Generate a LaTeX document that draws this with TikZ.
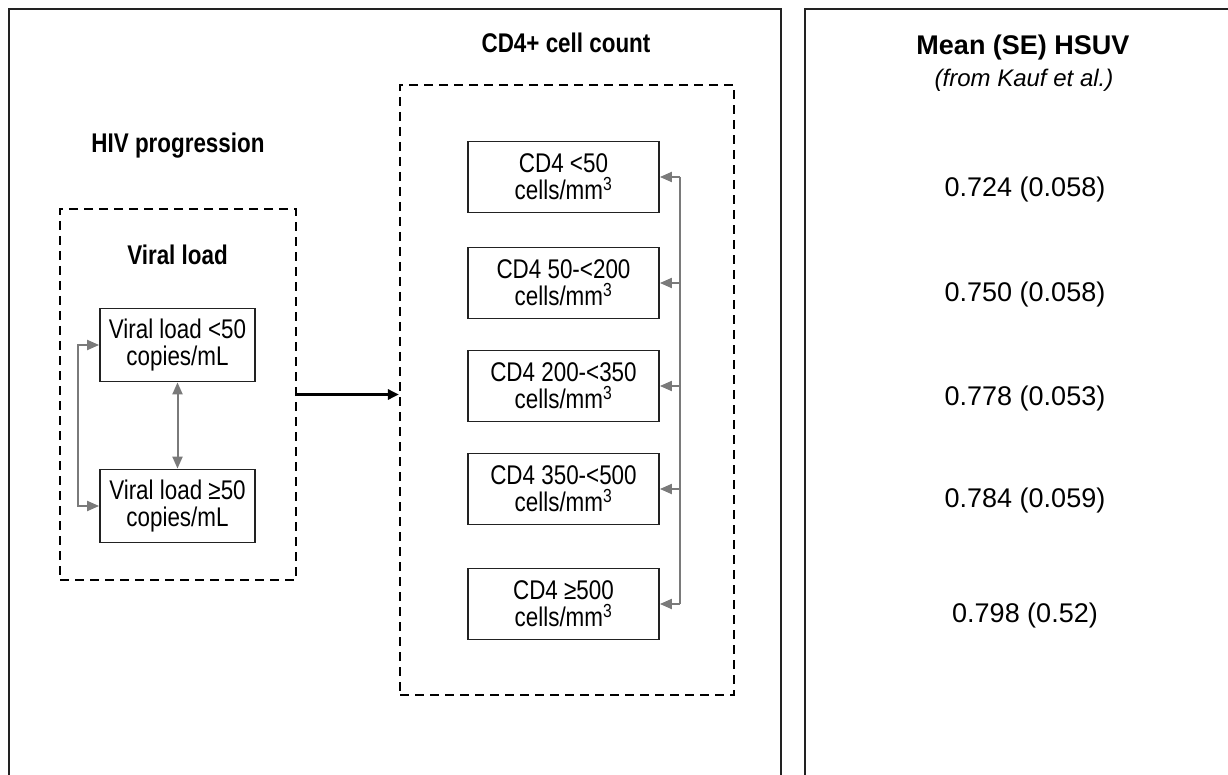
\documentclass[tikz,border=0pt]{standalone}
\usepackage{fontspec}
\setmainfont{Liberation Sans}[FakeStretch=0.83]
\newfontfamily\regfont{Liberation Sans}
\usetikzlibrary{arrows.meta}
\definecolor{conn}{HTML}{7A7A7A}
\definecolor{edge}{HTML}{222222}
\begin{document}
\begin{tikzpicture}[x=1pt,y=-1pt,
  statebox/.style={draw=edge,line width=1.8pt,align=center,inner sep=0pt,font=\fontsize{27}{27}\selectfont},
  vlbox/.style={statebox,minimum width=155pt,minimum height=73pt},
  cdbox/.style={statebox,minimum width=191pt,minimum height=71pt},
  groupbox/.style={draw=black,line width=2.2pt,dash pattern=on 9pt off 6pt,inner sep=0pt},
  panel/.style={draw=edge,line width=1.5pt},
  heading/.style={font=\fontsize{27}{27}\selectfont\bfseries,anchor=base,inner sep=0pt},
  value/.style={font=\regfont\fontsize{27}{27}\selectfont,anchor=base,inner sep=0pt},
  link/.style={draw=conn,line width=2pt},
  linkarrow/.style={link,-{Triangle[length=12pt,width=10pt]}},
  linkboth/.style={link,{Triangle[length=12pt,width=10pt]}-{Triangle[length=12pt,width=10pt]}},
  mainarrow/.style={draw=black,line width=3pt,-{Triangle[length=11pt,width=10pt]}},
]
\useasboundingbox (0,0) rectangle (1228,775);
% panels
\draw[panel] (9,790) -- (9,9) -- (781,9) -- (781,790);
\draw[panel] (805,790) -- (805,9) -- (1240,9);

% groups
\node[groupbox,minimum width=236pt,minimum height=371pt] (vlgroup) at (178,394.5) {};
\node[groupbox,minimum width=334pt,minimum height=610pt] (cdgroup) at (567,390) {};

% headings
\node[heading] (hiv) at (178,153) {HIV progression};
\node[heading] (vltitle) at (177.5,265) {Viral load};
\node[heading] (cdtitle) at (566,53) {CD4+ cell count};
\node[value,font=\regfont\fontsize{27}{27}\selectfont\bfseries] (meantitle) at (1023,55) {Mean (SE) HSUV};
\node[value,font=\regfont\fontsize{24}{24}\selectfont\itshape] (source) at (1024,87) {(from Kauf et al.)};

% viral load states
\node[vlbox] (vl1) at (177.5,345) {Viral load <50\\copies/mL};
\node[vlbox] (vl2) at (177.5,506) {Viral load ≥50\\copies/mL};

% CD4 states
\node[cdbox] (cd1) at (563.5,177) {CD4 <50\\cells/mm\textsuperscript{3}};
\node[cdbox] (cd2) at (563.5,283) {CD4 50-<200\\cells/mm\textsuperscript{3}};
\node[cdbox] (cd3) at (563.5,386) {CD4 200-<350\\cells/mm\textsuperscript{3}};
\node[cdbox] (cd4) at (563.5,489) {CD4 350-<500\\cells/mm\textsuperscript{3}};
\node[cdbox] (cd5) at (563.5,604) {CD4 ≥500\\cells/mm\textsuperscript{3}};

% viral load connectors
\coordinate (vlrail) at (78,0);
\draw[linkboth] (vl1) -- (vl2);
\draw[linkboth] (vl1.west) -- (vl1.west -| vlrail) -- (vl2.west -| vlrail) -- (vl2.west);

% CD4 connectors
\coordinate (cdrail) at (680,0);
\draw[link] (cd1.east -| cdrail) -- (cd5.east -| cdrail);
\foreach \n in {cd1,cd2,cd3,cd4,cd5}
  \draw[linkarrow] (\n.east -| cdrail) -- (\n.east);

% main arrow
\draw[mainarrow] (vlgroup.east) -- (vlgroup.east -| cdgroup.west);

% values
\node[value] (u1) at (1025,197) {0.724 (0.058)};
\node[value] (u2) at (1025,302) {0.750 (0.058)};
\node[value] (u3) at (1025,405) {0.778 (0.053)};
\node[value] (u4) at (1025,507) {0.784 (0.059)};
\node[value] (u5) at (1025,622) {0.798 (0.52)};
\end{tikzpicture}
\end{document}
